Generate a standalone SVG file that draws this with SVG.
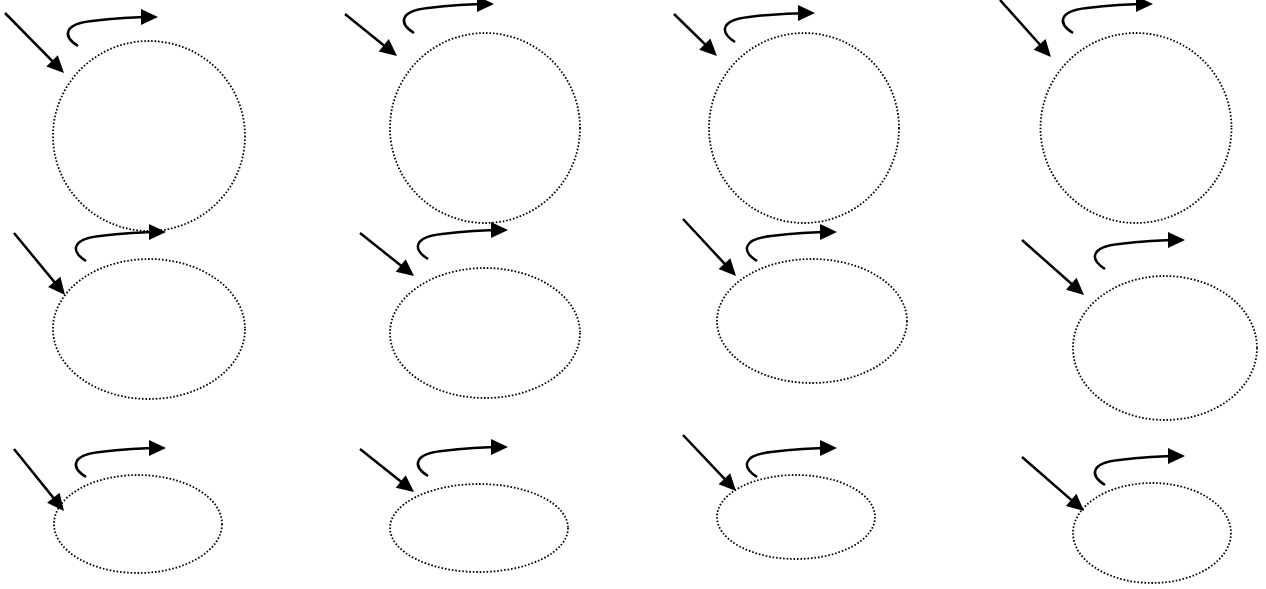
<svg xmlns="http://www.w3.org/2000/svg" width="1266" height="589" viewBox="0 0 1266 589">
<style>
.node{fill:none;stroke:#000;stroke-width:1.8;stroke-dasharray:1.6 1.9}
.arr{fill:none;stroke:#000;stroke-width:2.5;marker-end:url(#head)}
</style>
<defs>
<marker id="head" markerUnits="userSpaceOnUse" markerWidth="17" markerHeight="16" refX="13" refY="8" orient="auto" overflow="visible">
<path d="M0,0 L17,8 L0,16 z" fill="#000"/>
</marker>
</defs>
<rect width="1266" height="589" fill="#fff"/>
<g id="n11"><ellipse class="node" cx="149" cy="136" rx="96" ry="95"/></g>
<g id="n12"><ellipse class="node" cx="485" cy="128" rx="95" ry="95"/></g>
<g id="n13"><ellipse class="node" cx="804" cy="128" rx="95" ry="95"/></g>
<g id="n14"><ellipse class="node" cx="1136" cy="128" rx="95.5" ry="95"/></g>
<g id="n21"><ellipse class="node" cx="149" cy="329" rx="96" ry="70"/></g>
<g id="n22"><ellipse class="node" cx="485" cy="333" rx="95" ry="65"/></g>
<g id="n23"><ellipse class="node" cx="812" cy="321" rx="95" ry="62"/></g>
<g id="n24"><ellipse class="node" cx="1165" cy="348" rx="92" ry="72"/></g>
<g id="n31"><ellipse class="node" cx="138" cy="524" rx="84" ry="49"/></g>
<g id="n32"><ellipse class="node" cx="479" cy="528" rx="89" ry="44"/></g>
<g id="n33"><ellipse class="node" cx="796" cy="517" rx="79" ry="42"/></g>
<g id="n34"><ellipse class="node" cx="1152" cy="533" rx="79" ry="50"/></g>
<g id="connectors">
<path class="arr" d="M5,13 L61.2,70.2"/>
<path class="arr" d="M345,14 L393.9,53.5"/>
<path class="arr" d="M674,14 L714.1,53.2"/>
<path class="arr" d="M1000,0 L1048.3,54"/>
<path class="arr" d="M14,233 L62.5,291.9"/>
<path class="arr" d="M360,233 L410.9,273.5"/>
<path class="arr" d="M683,219 L733.3,273.1"/>
<path class="arr" d="M1022,240 L1081,292.3"/>
<path class="arr" d="M14,449 L61.5,507.9"/>
<path class="arr" d="M360,449 L410.9,489.5"/>
<path class="arr" d="M683,435 L733.3,488.1"/>
<path class="arr" d="M1022,457 L1081,508.4"/>
<path class="arr" d="M78,46 c-16,-10 -14,-22 14,-25 c24,-3 48,-4 62,-4"/>
<path class="arr" d="M414,33 c-16,-10 -14,-22 14,-25 c24,-3 48,-4 62,-4"/>
<path class="arr" d="M735,42 c-16,-10 -14,-22 14,-25 c24,-3 48,-4 62,-4"/>
<path class="arr" d="M1073,33 c-16,-10 -14,-22 14,-25 c24,-3 48,-4 62,-4"/>
<path class="arr" d="M86,261 c-16,-10 -14,-22 14,-25 c24,-3 48,-4 62,-4"/>
<path class="arr" d="M428,259 c-16,-10 -14,-22 14,-25 c24,-3 48,-4 62,-4"/>
<path class="arr" d="M757,261 c-16,-10 -14,-22 14,-25 c24,-3 48,-4 62,-4"/>
<path class="arr" d="M1105,269 c-16,-10 -14,-22 14,-25 c24,-3 48,-4 62,-4"/>
<path class="arr" d="M86,477 c-16,-10 -14,-22 14,-25 c24,-3 48,-4 62,-4"/>
<path class="arr" d="M428,476 c-16,-10 -14,-22 14,-25 c24,-3 48,-4 62,-4"/>
<path class="arr" d="M757,477 c-16,-10 -14,-22 14,-25 c24,-3 48,-4 62,-4"/>
<path class="arr" d="M1105,485 c-16,-10 -14,-22 14,-25 c24,-3 48,-4 62,-4"/>
</g>
</svg>
